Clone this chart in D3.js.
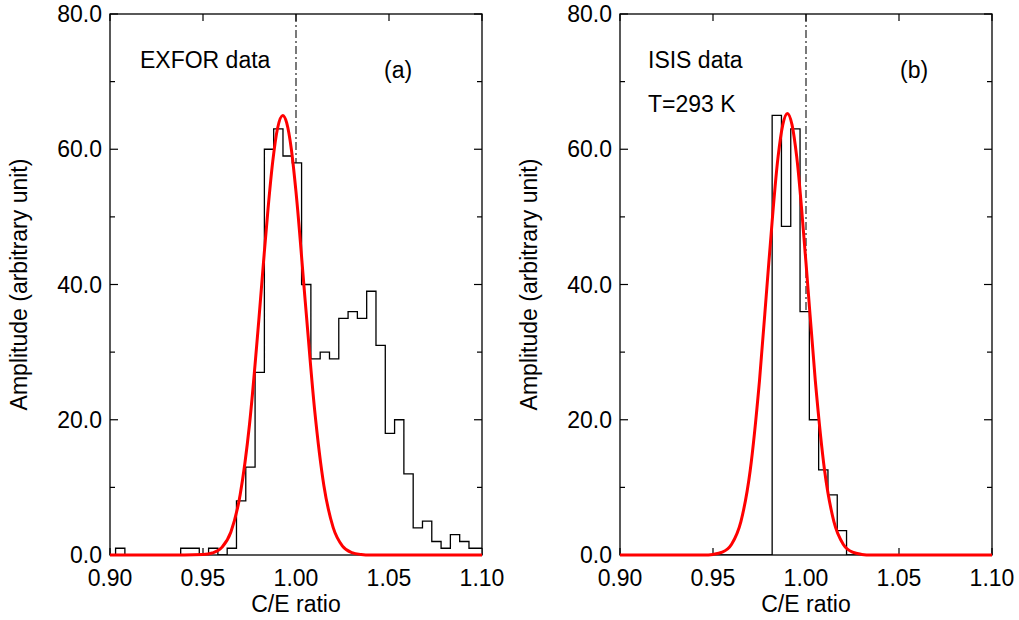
<!DOCTYPE html>
<html>
<head>
<meta charset="utf-8">
<script src="https://cdn.jsdelivr.net/npm/d3@7"></script>
<style>
  body { margin: 0; background: #fff; }
  text { font-family: "Liberation Sans", Arial, Helvetica, sans-serif; fill: #000; }
</style>
</head>
<body>
<div id="chart"></div>
<script>
// x tick labels and y tick labels
const xTickValues = [0.90, 0.95, 1.00, 1.05, 1.10];
const yTickValues = [0, 20, 40, 60, 80];
const yMinorTicks = [10, 30, 50, 70];

// panel (a): EXFOR histogram, bins of 0.005 starting at 0.903
const exforBinStart = 0.903;
const exforBinWidth = 0.005;
const exforCounts = [1, 0, 0, 0, 0, 0, 0, 1, 1, 0, 1, 0, 1, 8, 13, 27, 60, 63, 59, 58,
  40, 29, 30, 29, 35, 36, 35, 39, 31, 18, 20, 12, 4, 5, 2, 1, 3, 2, 1, 1];

// panel (b): ISIS histogram, bins of 0.005 starting at 0.9818
const isisBinStart = 0.9818;
const isisBinWidth = 0.005;
const isisCounts = [65, 48.6, 63, 36, 20, 12.6, 8.9, 3.6];

// red curves, points
const exforFitX = [0.90, 0.94, 0.95, 0.955, 0.96, 0.965, 0.97, 0.975, 0.98, 0.9825, 0.985, 0.9875,
  0.99, 0.9929, 0.995, 0.9975, 1.0, 1.005, 1.01, 1.015, 1.02, 1.025, 1.03, 1.035, 1.04, 1.10];
const exforFitY = [0, 0, 0.06, 0.29, 1.09, 3.4, 8.96, 19.3, 34.7, 43.2, 51.3, 58.2,
  63.0, 65.0, 63.9, 60.0, 53.7, 37.4, 21.5, 10.25, 4.05, 1.32, 0.36, 0.08, 0, 0];

const isisFitX = [0.90, 0.945, 0.95, 0.955, 0.96, 0.965, 0.97, 0.975, 0.98, 0.985, 0.9875,
  0.99, 0.9925, 0.995, 1.0, 1.005, 1.01, 1.015, 1.02, 1.025, 1.03, 1.035, 1.10];
const isisFitY = [0, 0, 0.09, 0.41, 1.59, 4.94, 12.5, 25.8, 43.2, 58.9, 63.6,
  65.3, 63.6, 58.9, 43.2, 25.8, 12.5, 4.94, 1.59, 0.41, 0.09, 0, 0];

const width = 1019;
const height = 620;
const fontSize = '23px';

const svg = d3.select('#chart')
  .append('svg')
  .attr('width', width)
  .attr('height', height);

function drawPanel(opts) {
  const left = opts.left;
  const top = 14;
  const w = 372;
  const h = 541;

  const g = svg.append('g').attr('transform', `translate(${left},${top})`);

  const x = d3.scaleLinear().domain([0.9, 1.1]).range([0, w]);
  const y = d3.scaleLinear().domain([0, 80]).range([h, 0]);

  g.append('clipPath').attr('id', opts.id + '-clip')
    .append('rect').attr('width', w).attr('height', h);

  // ticks, all pointing inward
  const tickG = g.append('g').attr('stroke', '#000').attr('stroke-width', 1.2);
  xTickValues.forEach((v) => {
    tickG.append('line').attr('x1', x(v)).attr('x2', x(v)).attr('y1', h).attr('y2', h - 7);
    tickG.append('line').attr('x1', x(v)).attr('x2', x(v)).attr('y1', 0).attr('y2', 7);
  });
  yTickValues.forEach((v) => {
    tickG.append('line').attr('x1', 0).attr('x2', 8).attr('y1', y(v)).attr('y2', y(v));
    tickG.append('line').attr('x1', w).attr('x2', w - 8).attr('y1', y(v)).attr('y2', y(v));
  });
  yMinorTicks.forEach((v) => {
    tickG.append('line').attr('x1', 0).attr('x2', 5).attr('y1', y(v)).attr('y2', y(v));
    tickG.append('line').attr('x1', w).attr('x2', w - 5).attr('y1', y(v)).attr('y2', y(v));
  });

  // dash-dot line at C/E = 1
  g.append('line')
    .attr('x1', x(1)).attr('x2', x(1))
    .attr('y1', 0).attr('y2', h)
    .attr('stroke', '#222')
    .attr('stroke-width', 1.2)
    .attr('stroke-dasharray', '8,3,2,3');

  // histogram as step outline, white filled
  const pts = [{ x: 0.9, v: 0 }];
  opts.counts.forEach((c, i) => pts.push({ x: opts.binStart + i * opts.binWidth, v: c }));
  pts.push({ x: opts.binStart + opts.counts.length * opts.binWidth, v: 0 });
  pts.push({ x: 1.2, v: 0 });

  const hist = g.append('g').attr('clip-path', `url(#${opts.id}-clip)`);
  hist.append('path')
    .datum(pts)
    .attr('fill', '#fff')
    .attr('stroke', 'none')
    .attr('d', d3.area().curve(d3.curveStepAfter).x((d) => x(d.x)).y0(h).y1((d) => y(d.v)));
  hist.append('path')
    .datum(pts)
    .attr('fill', 'none')
    .attr('stroke', '#000')
    .attr('stroke-width', 1.3)
    .attr('d', d3.line().curve(d3.curveStepAfter).x((d) => x(d.x)).y((d) => y(d.v)));

  // frame
  g.append('rect')
    .attr('width', w).attr('height', h)
    .attr('fill', 'none')
    .attr('stroke', '#000')
    .attr('stroke-width', 1.3);

  // fitted curve
  const fit = opts.fitX.map((v, i) => ({ x: v, v: opts.fitY[i] }));
  g.append('path')
    .datum(fit)
    .attr('fill', 'none')
    .attr('stroke', '#ff0000')
    .attr('stroke-width', 3)
    .attr('stroke-linejoin', 'round')
    .attr('d', d3.line().curve(d3.curveMonotoneX).x((d) => x(d.x)).y((d) => y(d.v)));

  // tick labels
  xTickValues.forEach((v) => {
    g.append('text')
      .attr('x', x(v)).attr('y', h + 31)
      .attr('text-anchor', 'middle')
      .style('font-size', fontSize)
      .text(d3.format('.2f')(v));
  });
  yTickValues.forEach((v) => {
    g.append('text')
      .attr('x', -8).attr('y', y(v) + 8)
      .attr('text-anchor', 'end')
      .style('font-size', fontSize)
      .text(d3.format('.1f')(v));
  });

  g.append('text')
    .attr('x', w / 2).attr('y', h + 57)
    .attr('text-anchor', 'middle')
    .style('font-size', fontSize)
    .text('C/E ratio');

  g.append('text')
    .attr('transform', `translate(-83,${h / 2}) rotate(-90)`)
    .attr('text-anchor', 'middle')
    .style('font-size', fontSize)
    .text('Amplitude (arbitrary unit)');

  opts.labels.forEach((l) => {
    g.append('text')
      .attr('x', l.x).attr('y', l.y)
      .style('font-size', fontSize)
      .text(l.text);
  });
}

drawPanel({
  id: 'pa',
  left: 110,
  binStart: exforBinStart,
  binWidth: exforBinWidth,
  counts: exforCounts,
  fitX: exforFitX,
  fitY: exforFitY,
  labels: [
    { text: 'EXFOR data', x: 30, y: 54 },
    { text: '(a)', x: 274, y: 64 }
  ]
});

drawPanel({
  id: 'pb',
  left: 620,
  binStart: isisBinStart,
  binWidth: isisBinWidth,
  counts: isisCounts,
  fitX: isisFitX,
  fitY: isisFitY,
  labels: [
    { text: 'ISIS data', x: 28, y: 54 },
    { text: 'T=293 K', x: 28, y: 98 },
    { text: '(b)', x: 280, y: 64 }
  ]
});
</script>
</body>
</html>
